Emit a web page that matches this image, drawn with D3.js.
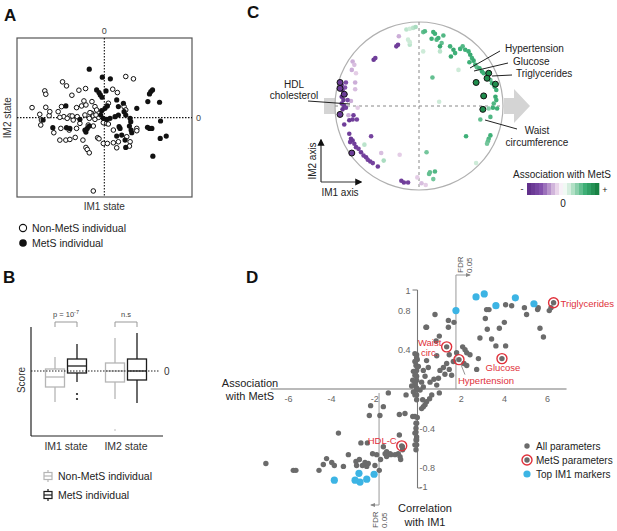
<!DOCTYPE html>
<html>
<head>
<meta charset="utf-8">
<script src="https://cdnjs.cloudflare.com/ajax/libs/d3/7.8.5/d3.min.js"></script>
<style>
body{margin:0;background:#fff;}
text{font-family:"Liberation Sans",Arial,sans-serif;}
</style>
</head>
<body>
<svg id="fig" width="617" height="531"></svg>
<script>
// ---------- panel A : individuals on IM1 / IM2 state ----------
var aMetS = [[-0.45,1.45],[-0.06,1.21],[0.18,1.16],[-0.23,0.83],[-0.16,0.75],[-0.12,0.68],[-0.07,0.61],[0.05,0.80],
  [0.37,0.53],[0.42,0.33],[0.57,0.43],[0.59,0.18],[0.64,0.08],[0.42,0.08],[0.32,0.03],[0.09,0.35],[0.02,0.28],
  [-0.08,0.21],[-0.11,0.08],[-0.03,-0.02],[0.07,-0.05],[0.17,-0.02],[1.44,0.83],[1.39,0.78],[1.35,0.71],[1.30,0.48],
  [1.65,0.46],[0.97,0.28],[0.77,-0.02],[0.79,-0.12],[0.75,-0.25],[0.80,-0.37],[0.82,-0.45],[1.29,-0.29],[1.35,-0.32],
  [1.42,-0.32],[1.68,-0.10],[1.67,-0.62],[1.85,-0.55],[1.45,-1.15],[0.64,-0.89],[0.62,-0.67],[0.44,-0.27],[0.47,-0.32],
  [0.37,-0.55],[0.52,-0.52],[-1.54,-0.30],[-1.15,0.35],[-1.83,-0.07],[-1.13,-0.30],[-1.03,-0.32],[-0.58,-0.37],
  [-0.55,-0.43],[-0.51,-0.32],[-0.45,-0.25],[-0.73,-0.05]]
var aNonMetS = [[-2.16,0.30],[-1.78,0.80],[-1.75,0.70],[-1.25,1.07],[-1.13,0.95],[-0.76,0.82],[-0.56,0.87],[-0.97,0.67],
  [-1.75,0.31],[-1.93,0.10],[-1.65,0.06],[-1.88,-0.07],[-1.90,-0.22],[-1.38,0.18],[-1.28,0.33],[-1.21,0.03],[-1.03,0.05],
  [-0.83,0.30],[-0.68,0.35],[-0.55,0.38],[-0.61,0.50],[-0.37,0.48],[-0.28,0.33],[-0.23,0.23],[-0.38,0.13],[-0.45,-0.02],
  [-0.33,0.05],[-0.28,-0.05],[-0.17,0.01],[-0.48,-0.22],[-0.33,-0.25],[-0.83,-0.32],[-0.93,-0.07],[-0.73,-0.17],
  [-1.05,-0.37],[-1.51,-0.45],[-1.33,-0.67],[-1.15,-0.67],[-1.03,-0.65],[-0.87,-0.59],[-0.64,-0.67],[-0.55,-0.89],
  [-0.51,-0.95],[-0.45,-1.05],[-0.20,-0.60],[-0.16,-0.63],[-0.03,-0.77],[0.09,-0.77],[0.27,-0.75],[0.37,-0.90],
  [0.42,-0.72],[0.77,-0.72],[0.75,-0.85],[0.97,-0.32],[0.97,-0.39],[0.67,-0.57],[0.12,0.43],[0.25,0.85],[0.39,0.75],
  [0.64,1.23],[0.87,1.16],[0.59,0.33],[0.64,0.23],[-0.03,-0.15],[0.07,-0.17],[-0.33,-2.19],[-1.30,-0.32],[-0.96,0.05],
  [-0.43,0.15],[-0.25,0.08],[-0.58,0.08],[-0.81,0.03],[-1.63,0.18],[0.12,-0.19],[0.27,-0.37],[-1.33,0.01],[-1.11,-0.02]]

// ---------- panel B : box plot summaries (q1, median, q3, whisker lo, whisker hi) ----------
var bStates = ["IM1 state", "IM2 state"]
var bGroups = ["Non-MetS individual", "MetS individual"]
var bBoxes = [
  {state:"IM1 state", group:0, lo:-1.55, q1:-0.8, med:-0.3, q3:0.1, hi:0.7, out:[]},
  {state:"IM1 state", group:1, lo:-0.55, q1:-0.1, med:0.25, q3:0.6, hi:1.35, out:[-1.15,-1.4]},
  {state:"IM2 state", group:0, lo:-1.4, q1:-0.55, med:0, q3:0.4, hi:1.65, out:[-2.95]},
  {state:"IM2 state", group:1, lo:-1.6, q1:-0.45, med:0, q3:0.6, hi:1.9, out:[]}
]
var bTests = ["p = 10", "n.s"]

// ---------- panel C : parameter loadings [IM1, IM2, association with MetS] ----------
var cPoints = [
  [-0.24,0.83,-0.3],[-0.79,0.53,-0.3],[-0.77,0.49,-0.25],[-0.80,0.43,-0.3],[-0.75,0.39,-0.2],[-0.76,0.28,-0.3],
  [-0.76,0.20,-0.25],[-0.81,0.06,-0.3],[-0.73,-0.02,-0.2],[-0.84,-0.11,-0.3],[-0.45,-0.56,-0.25],[-0.23,-0.58,-0.2],
  [-0.02,-0.85,-0.2],[0.03,-0.92,-0.25],[0.08,-0.94,-0.2],
  [-0.65,-0.46,0.25],[-0.42,-0.65,0.3],[-0.15,0.91,0.25],[-0.11,0.92,0.2],[-0.07,0.93,0.25],[-0.04,0.94,0.3],
  [-0.13,0.79,0.2],[-0.11,0.73,0.25],[0.05,0.65,0.2],[0.24,0.05,0.2],[0.68,-0.68,0.2],[0.47,0.43,0.2],
  [0.25,0.65,0.25],[-0.11,0.76,0.2],
  [-0.27,0.71,-0.8],[-0.25,0.73,-0.8],[-0.54,0.55,-0.85],[-0.52,0.57,-0.8],
  [-0.92,0.25,-0.9],[-0.91,0.19,-0.85],[-0.92,0.11,-0.9],[-0.90,0.07,-0.85],[-0.92,0.03,-0.9],[-0.89,0.00,-0.85],
  [-0.91,-0.04,-0.9],[-0.87,-0.02,-0.8],[-0.88,0.22,-0.6],[-0.87,0.28,-0.65],[-0.88,0.14,-0.8],[-0.85,0.07,-0.7],
  [-0.79,-0.16,-0.8],[-0.83,-0.17,-0.85],[-0.89,-0.22,-0.8],[-0.74,-0.16,-0.75],[-0.78,-0.11,-0.8],
  [-0.83,-0.33,-0.8],[-0.81,-0.39,-0.85],[-0.82,-0.43,-0.8],[-0.79,-0.41,-0.85],[-0.77,-0.45,-0.8],[-0.75,-0.49,-0.8],
  [-0.72,-0.51,-0.75],[-0.69,-0.55,-0.8],[-0.66,-0.59,-0.75],[-0.63,-0.61,-0.8],[-0.61,-0.64,-0.75],[-0.58,-0.66,-0.8],
  [-0.55,-0.68,-0.75],[-0.49,-0.72,-0.8],[-0.57,-0.36,-0.75],[-0.21,-0.89,-0.8],[-0.18,-0.91,-0.8],[-0.13,-0.91,-0.75],
  [0.05,0.88,0.5],[0.07,0.89,0.55],[0.17,0.88,0.6],[0.19,0.86,0.6],[0.29,0.84,0.55],[0.15,0.80,0.6],[0.21,0.79,0.55],
  [0.16,0.34,0.5],[0.56,-0.36,0.6],[0.13,-0.79,0.5],[0.19,-0.78,0.55],[0.23,0.81,0.6],[0.27,0.75,0.5],[0.25,0.71,0.65],
  [0.37,0.71,0.6],[0.41,0.67,0.65],[0.43,0.63,0.6],[0.38,0.59,0.65],[0.49,0.68,0.6],[0.52,0.71,0.55],[0.55,0.67,0.6],
  [0.59,0.65,0.6],[0.61,0.61,0.65],[0.63,0.57,0.6],[0.65,0.54,0.65],[0.60,0.52,0.6],[0.67,0.49,0.6],[0.69,0.46,0.5],
  [0.72,0.45,0.6],[0.75,0.41,0.65],[0.77,0.39,0.6],[0.85,0.31,0.5],[0.87,0.27,0.6],[0.90,0.23,0.65],[0.92,0.19,0.6],
  [0.91,0.11,0.65],[0.92,0.07,0.6],[0.89,0.03,0.55],[0.88,-0.02,0.6],[0.83,-0.03,0.4],[0.93,-0.03,0.6],[0.85,-0.13,0.55],
  [0.73,-0.16,0.5],[0.85,-0.35,0.6],[0.83,-0.39,0.55],[0.82,-0.42,0.5],[0.81,-0.45,0.45],[0.12,-0.81,0.5],
  [0.17,-0.87,0.45],[0.09,-0.55,0.45]
]
var cHdl = [[-0.94,0.28],[-0.94,0.21],[-0.89,0.14],[-0.94,-0.10],[-0.80,-0.56]]
var cMetSPos = [[0.83,0.39],[0.81,0.33],[0.68,0.28],[0.91,0.26],[0.77,0.12],[0.76,-0.04]]

// ---------- panel D : association with MetS vs correlation with IM1 ----------
var dAll = [[0.81,0.76],[1.43,0.70],[1.69,0.68],[1.43,0.63],[0.42,0.63],[1.01,0.54],[0.86,0.49],[3.20,0.81],[3.31,0.81],
  [4.08,0.86],[4.36,0.85],[4.95,0.83],[5.05,0.76],[5.56,0.81],[5.59,0.83],[6.10,0.80],[6.18,0.83],[3.14,0.72],[3.23,0.61],
  [3.79,0.62],[4.02,0.68],[5.67,0.62],[5.83,0.53],[2.89,0.52],[3.43,0.51],[3.63,0.44],[4.08,0.44],[1.81,0.37],[2.09,0.43],
  [2.20,0.40],[2.28,0.37],[2.43,0.35],[2.82,0.31],[2.74,0.20],[2.15,0.26],[2.28,0.24],[0.89,0.34],[1.47,0.35],[1.66,0.28],
  [1.35,0.26],[1.20,0.22],[1.47,0.20],[1.04,0.19],[1.58,0.14],[1.27,0.15],[0.97,0.11],[0.76,0.10],[0.58,0.07],[0.89,0.04],
  [1.01,-0.04],[0.66,-0.06],[0.56,-0.10],[0.42,-0.13],[0.35,-0.16],[0.27,-0.18],[0.19,-0.20],[0.42,0.29],[0.50,0.22],
  [0.27,0.19],[0.35,0.13],[0.19,0.07],[0.27,0.02],[0.12,-0.01],[-0.04,0.35],[-0.01,0.30],[-0.07,0.24],[-0.04,0.19],
  [-0.12,0.14],[-0.04,0.09],[-0.12,0.04],[-0.04,-0.01],[-0.12,-0.06],[-0.04,-0.11],[-0.12,-0.28],[-0.01,-0.29],
  [-0.07,-0.35],[-0.07,-0.44],[-0.04,-0.49],[-0.07,-0.52],[-0.04,-0.57],[-0.07,-0.62],[0.39,0.63],[-0.12,0.36],
  [-0.04,0.32],[-0.12,0.28],[0.04,0.23],[-0.19,0.18],[-0.04,0.13],[-0.22,0.09],[-0.12,0.06],[-0.27,0.03],[-0.04,0.01],
  [-0.19,-0.03],[-0.04,-0.06],[0.24,-0.11],[-1.35,-0.04],[-0.53,-0.06],[-2.17,-0.17],[-1.58,-0.18],[-2.23,-0.27],
  [-0.84,-0.26],[-0.58,-0.25],[-1.74,-0.27],[-0.22,-0.28],[-0.04,-0.35],[-0.07,-0.40],[-0.12,-0.45],[-0.04,-0.52],
  [-0.12,-0.57],[-0.84,-0.47],[-0.70,-0.59],[-0.69,-0.62],[-0.89,-0.66],[-0.81,-0.69],[-0.78,-0.72],[-1.04,-0.67],
  [-1.27,-0.66],[-1.50,-0.66],[-1.43,-0.69],[-1.89,-0.67],[-1.71,-0.72],[-2.08,-0.66],[-2.32,-0.55],[-2.62,-0.55],
  [-2.85,-0.74],[-2.82,-0.78],[-2.43,-0.75],[-2.35,-0.79],[-2.28,-0.76],[-1.97,-0.78],[-1.77,-0.83],[-3.20,-0.67],
  [-3.43,-0.79],[-3.66,-0.45],[-4.21,-0.71],[-3.97,-0.75],[-3.85,-0.78],[-4.36,-0.77],[-4.56,-0.83],[-5.75,-0.83],
  [-5.63,-0.83],[-7.02,-0.76],[-2.55,-0.78],[-2.69,-0.72],[-1.43,-0.64],[-1.23,-0.67],[-1.58,-0.59]]
var dTop = [[2.71,0.94],[3.09,0.97],[3.63,0.85],[4.53,0.93],[5.39,0.87],[1.78,0.80],
  [-3.85,-0.93],[-2.89,-0.93],[-2.66,-0.95],[-2.35,-0.92],[-2.71,-0.86],[-2.01,-0.87]]
var dMetS = [["Triglycerides",6.3,0.88],["Waist circ.",1.35,0.43],["Hypertension",1.92,0.30],["Glucose",3.91,0.31],["HDL-C",-0.73,-0.58]]
var dFdr = 1.78
var dXTicks = [-6,-4,-2,2,4,6]
var dYTicksPos = [1,0.8,0.4]
var dYTicksNeg = [-0.4,-0.8,-1]

var svg = d3.select("#fig")
var red = "#e0313b"

function panelLabel(t, x, y){
  svg.append("text").attr("x",x).attr("y",y).attr("font-size",17).attr("font-weight","bold").attr("fill","#111").text(t)
}
panelLabel("A",4,21); panelLabel("B",3,283); panelLabel("C",247,18); panelLabel("D",246,283)

// ================= A =================
var gA = svg.append("g")
var xA = d3.scaleLinear().domain([-2.61,2.62]).range([17,192])
var yA = d3.scaleLinear().domain([-2.37,2.38]).range([197,38])
gA.append("rect").attr("x",xA.range()[0]).attr("y",yA.range()[1])
  .attr("width",xA.range()[1]-xA.range()[0]).attr("height",yA.range()[0]-yA.range()[1])
  .attr("fill","none").attr("stroke","#555").attr("stroke-width",1.2)
gA.append("line").attr("x1",xA(0)).attr("x2",xA(0)).attr("y1",yA.range()[1]).attr("y2",yA.range()[0])
  .attr("stroke","#111").attr("stroke-width",1.1).attr("stroke-dasharray","1.5,1.5")
gA.append("line").attr("x1",xA.range()[0]).attr("x2",xA.range()[1]).attr("y1",yA(0)).attr("y2",yA(0))
  .attr("stroke","#111").attr("stroke-width",1.1).attr("stroke-dasharray","1.5,1.5")
gA.selectAll(".open").data(aNonMetS).enter().append("circle")
  .attr("cx",d=>xA(d[0])).attr("cy",d=>yA(d[1])).attr("r",2.3)
  .attr("fill","#fff").attr("stroke","#111").attr("stroke-width",1)
gA.selectAll(".filled").data(aMetS).enter().append("circle")
  .attr("cx",d=>xA(d[0])).attr("cy",d=>yA(d[1])).attr("r",2.6).attr("fill","#111")
gA.append("text").attr("x",xA(0)).attr("y",34).attr("text-anchor","middle").attr("font-size",9).attr("fill","#444").text("0")
gA.append("text").attr("x",196).attr("y",yA(0)+3).attr("font-size",9).attr("fill","#444").text("0")
gA.append("text").attr("x",xA(0)).attr("y",210).attr("text-anchor","middle").attr("font-size",10).attr("fill","#333").text("IM1 state")
gA.append("text").attr("transform",`translate(11,${yA(0)}) rotate(-90)`).attr("text-anchor","middle").attr("font-size",10).attr("fill","#333").text("IM2 state")
gA.append("circle").attr("cx",23).attr("cy",228).attr("r",3.6).attr("fill","#fff").attr("stroke","#111").attr("stroke-width",1.1)
gA.append("circle").attr("cx",23).attr("cy",243).attr("r",3.8).attr("fill","#111")
gA.append("text").attr("x",32).attr("y",231.5).attr("font-size",10.5).attr("fill","#222").text("Non-MetS individual")
gA.append("text").attr("x",32).attr("y",246.5).attr("font-size",10.5).attr("fill","#222").text("MetS individual")

// ================= B =================
var gB = svg.append("g")
var xB = d3.scaleBand().domain(bStates).range([36,156])
var yB = d3.scaleLinear().domain([-3.25,2.2]).range([436,327])
var boxColor = ["#b5b5b5","#1c1c1c"]
var boxW = 19
gB.append("line").attr("x1",31).attr("x2",31).attr("y1",yB.range()[1]).attr("y2",yB.range()[0]).attr("stroke","#222").attr("stroke-width",1.2)
gB.append("line").attr("x1",31).attr("x2",163).attr("y1",yB.range()[0]).attr("y2",yB.range()[0]).attr("stroke","#222").attr("stroke-width",1.2)
var boxG = gB.selectAll(".box").data(bBoxes).enter().append("g")
  .attr("transform",d=>`translate(${xB(d.state)+xB.bandwidth()/2+(d.group?11:-11)},0)`)
boxG.append("line").attr("x1",0).attr("x2",0).attr("y1",d=>yB(d.hi)).attr("y2",d=>yB(d.q3))
  .attr("stroke",d=>boxColor[d.group]).attr("stroke-width",1.3)
boxG.append("line").attr("x1",0).attr("x2",0).attr("y1",d=>yB(d.q1)).attr("y2",d=>yB(d.lo))
  .attr("stroke",d=>boxColor[d.group]).attr("stroke-width",1.3)
boxG.append("rect").attr("x",-boxW/2).attr("width",boxW).attr("y",d=>yB(d.q3)).attr("height",d=>yB(d.q1)-yB(d.q3))
  .attr("fill","#fff").attr("stroke",d=>boxColor[d.group]).attr("stroke-width",1.3)
boxG.append("line").attr("x1",-boxW/2).attr("x2",boxW/2).attr("y1",d=>yB(d.med)).attr("y2",d=>yB(d.med))
  .attr("stroke",d=>boxColor[d.group]).attr("stroke-width",1.3)
boxG.each(function(d){
  d3.select(this).selectAll(".o").data(d.out).enter().append("circle")
    .attr("cx",0).attr("cy",v=>yB(v)).attr("r",d.group?1.1:0.8).attr("fill",boxColor[d.group])
})
gB.append("line").attr("x1",31).attr("x2",160).attr("y1",yB(0)).attr("y2",yB(0))
  .attr("stroke","#222").attr("stroke-width",1.1).attr("stroke-dasharray","1.5,1.5")
gB.append("text").attr("x",164).attr("y",yB(0)+3.5).attr("font-size",10).attr("fill","#333").text("0")
gB.append("text").attr("transform",`translate(25,${yB(0)+9}) rotate(-90)`).attr("text-anchor","middle").attr("font-size",10).attr("fill","#333").text("Score")
bStates.forEach(function(s,i){
  var cx = xB(s)+xB.bandwidth()/2
  gB.append("text").attr("x",cx).attr("y",450).attr("text-anchor","middle").attr("font-size",10.5).attr("fill","#333").text(s)
  gB.append("path").attr("d",`M${cx-11},327V322H${cx+11}V327`).attr("fill","none").attr("stroke","#999").attr("stroke-width",1)
  var t = gB.append("text").attr("x",cx).attr("y",317).attr("text-anchor","middle").attr("font-size",7.5).attr("fill","#444").text(bTests[i])
  if(i==0) t.append("tspan").attr("dy",-3).attr("font-size",5.5).text("-7")
})
bGroups.forEach(function(g,i){
  var cy = 476+i*19
  var lg = gB.append("g").attr("transform",`translate(48,${cy})`)
  lg.append("line").attr("x1",0).attr("x2",0).attr("y1",-6).attr("y2",6).attr("stroke",boxColor[i]).attr("stroke-width",1.2)
  lg.append("rect").attr("x",-4).attr("y",-3.5).attr("width",8).attr("height",7).attr("fill","#fff").attr("stroke",boxColor[i]).attr("stroke-width",1.2)
  lg.append("line").attr("x1",-4).attr("x2",4).attr("y1",0).attr("y2",0).attr("stroke",boxColor[i]).attr("stroke-width",1.2)
  gB.append("text").attr("x",58).attr("y",cy+4).attr("font-size",10.5).attr("fill","#222").text(g)
})

// ================= C =================
var gC = svg.append("g")
var xC = d3.scaleLinear().domain([-1,1]).range([335,503])
var yC = d3.scaleLinear().domain([-1,1]).range([190,22])
var colC = d3.scaleLinear().domain([-1,-0.6,-0.2,0,0.2,0.6,1])
  .range(["#5b2a86","#8452ad","#e4cde6","#ffffff","#cdebd8","#3fb078","#127a3c"])
// grey arrows behind the circle
gC.append("rect").attr("x",xC(-1)-11).attr("y",yC(0)-8).attr("width",13).attr("height",16).attr("fill","#d4d4d4")
gC.append("path").attr("d",`M${xC(1)+1},${yC(0)-8}H${xC(1)+11}V${yC(0)-17}L${xC(1)+27},${yC(0)}L${xC(1)+11},${yC(0)+17}V${yC(0)+8}H${xC(1)+1}Z`).attr("fill","#d4d4d4")
gC.append("circle").attr("cx",xC(0)).attr("cy",yC(0)).attr("r",xC(1)-xC(0)).attr("fill","#fff").attr("stroke","#b0b0b0").attr("stroke-width",1.2)
gC.append("line").attr("x1",xC(0)).attr("x2",xC(0)).attr("y1",yC(1)).attr("y2",yC(-1)).attr("stroke","#888").attr("stroke-dasharray","3,3")
gC.append("line").attr("x1",xC(-1)).attr("x2",xC(1)).attr("y1",yC(0)).attr("y2",yC(0)).attr("stroke","#888").attr("stroke-dasharray","3,3")
gC.selectAll(".pt").data(cPoints).enter().append("circle")
  .attr("cx",d=>xC(d[0])).attr("cy",d=>yC(d[1])).attr("r",2.3).attr("fill",d=>colC(d[2]))
gC.selectAll(".hdl").data(cHdl).enter().append("circle")
  .attr("cx",d=>xC(d[0])).attr("cy",d=>yC(d[1])).attr("r",3).attr("fill","#6a3b96").attr("stroke","#111").attr("stroke-width",1)
gC.selectAll(".mets").data(cMetSPos).enter().append("circle")
  .attr("cx",d=>xC(d[0])).attr("cy",d=>yC(d[1])).attr("r",3).attr("fill","#1f8d4d").attr("stroke","#111").attr("stroke-width",1)
// annotations
function leader(x1,y1,x2,y2){ gC.append("line").attr("x1",x1).attr("y1",y1).attr("x2",x2).attr("y2",y2).attr("stroke","#222").attr("stroke-width",1) }
leader(308,101,350,104); leader(500,51,470,68); leader(508,63,474,71); leader(512,75,492,76); leader(517,129,485,120)
var cLab = [["HDL",294,88,"middle"],["cholesterol",294,99,"middle"],["Hypertension",505,52,"start"],["Glucose",513,65,"start"],
  ["Triglycerides",516,77,"start"],["Waist",537,134,"middle"],["circumference",537,146,"middle"]]
cLab.forEach(function(l){
  gC.append("text").attr("x",l[1]).attr("y",l[2]).attr("text-anchor",l[3]).attr("font-size",10).attr("fill","#222").text(l[0])
})
// IM axes arrows
gC.append("defs").append("marker").attr("id","ah").attr("viewBox","0 0 10 10").attr("refX",8).attr("refY",5)
  .attr("markerWidth",6).attr("markerHeight",6).attr("orient","auto")
  .append("path").attr("d","M0,0L10,5L0,10Z").attr("fill","#111")
gC.append("line").attr("x1",321).attr("y1",182).attr("x2",321).attr("y2",140).attr("stroke","#333").attr("stroke-width",1.2).attr("marker-end","url(#ah)")
gC.append("line").attr("x1",321).attr("y1",182).attr("x2",361).attr("y2",182).attr("stroke","#333").attr("stroke-width",1.2).attr("marker-end","url(#ah)")
gC.append("text").attr("transform","translate(316,161) rotate(-90)").attr("text-anchor","middle").attr("font-size",10).attr("fill","#222").text("IM2 axis")
gC.append("text").attr("x",340).attr("y",196).attr("text-anchor","middle").attr("font-size",10).attr("fill","#222").text("IM1 axis")
// colour bar
var cbX = d3.scaleLinear().domain([-1,1]).range([527,599])
var cbSteps = d3.range(-1,1,2/18)
gC.selectAll(".cb").data(cbSteps).enter().append("rect")
  .attr("x",d=>cbX(d)).attr("y",183).attr("width",cbX(-1+2/18)-cbX(-1)+0.3).attr("height",12)
  .attr("fill",d=>colC(d+1/18))
gC.append("text").attr("x",562).attr("y",178).attr("text-anchor","middle").attr("font-size",10).attr("fill","#222").text("Association with MetS")
gC.append("text").attr("x",522).attr("y",192).attr("text-anchor","middle").attr("font-size",9).attr("fill","#222").text("-")
gC.append("text").attr("x",605).attr("y",193).attr("text-anchor","middle").attr("font-size",9).attr("fill","#222").text("+")
gC.append("text").attr("x",cbX(0)).attr("y",207).attr("text-anchor","middle").attr("font-size",10).attr("fill","#222").text("0")

// ================= D =================
var gD = svg.append("g")
var xD = d3.scaleLinear().domain([-7,7]).range([266.3,568.7])
var yD = d3.scaleLinear().domain([-1,1]).range([487,291])
var axCol = "#777"
gD.append("line").attr("x1",xD(-6.8)).attr("x2",xD(6.9)).attr("y1",yD(0)).attr("y2",yD(0)).attr("stroke",axCol).attr("stroke-width",1.1)
gD.append("line").attr("x1",xD(0)).attr("x2",xD(0)).attr("y1",yD(1)-1).attr("y2",yD(-1)+1).attr("stroke",axCol).attr("stroke-width",1.1)
gD.append("line").attr("x1",xD(0)-5).attr("x2",xD(0)).attr("y1",yD(1)-1).attr("y2",yD(1)-1).attr("stroke",axCol)
gD.append("line").attr("x1",xD(0)).attr("x2",xD(0)+4).attr("y1",yD(-1)+1).attr("y2",yD(-1)+1).attr("stroke",axCol)
var xAxD = gD.append("g").attr("transform",`translate(0,${yD(0)})`)
  .call(d3.axisBottom(xD).tickValues(dXTicks).tickSize(0).tickPadding(7).tickFormat(d=>String(d)))
var yAxP = gD.append("g").attr("transform",`translate(${xD(0)},0)`)
  .call(d3.axisLeft(yD).tickValues(dYTicksPos).tickSize(0).tickPadding(7).tickFormat(d=>String(d)))
var yAxN = gD.append("g").attr("transform",`translate(${xD(0)},0)`)
  .call(d3.axisRight(yD).tickValues(dYTicksNeg).tickSize(0).tickPadding(2).tickFormat(d=>String(d)))
;[xAxD,yAxP,yAxN].forEach(function(a){
  a.select(".domain").remove()
  a.selectAll("text").attr("font-size",9).attr("fill","#666").attr("font-family","Liberation Sans, Arial, sans-serif")
})
// FDR thresholds
gD.append("defs").append("marker").attr("id","ahg").attr("viewBox","0 0 10 10").attr("refX",8).attr("refY",5)
  .attr("markerWidth",5).attr("markerHeight",5).attr("orient","auto")
  .append("path").attr("d","M0,1L10,5L0,9Z").attr("fill","#888")
gD.append("path").attr("d",`M${xD(dFdr)},${yD(0)}V275H${xD(dFdr)+14}`).attr("fill","none").attr("stroke","#999").attr("marker-end","url(#ahg)")
gD.append("path").attr("d",`M${xD(-dFdr)},${yD(0)+4}V505H${xD(-dFdr)-8}`).attr("fill","none").attr("stroke","#999").attr("marker-end","url(#ahg)")
gD.append("text").attr("transform",`translate(${xD(dFdr)+7},273) rotate(-90)`).attr("font-size",8).attr("fill","#555").text("FDR")
gD.append("text").attr("transform",`translate(${xD(dFdr)+16},273) rotate(-90)`).attr("font-size",8).attr("fill","#555").text("0.05")
gD.append("text").attr("transform",`translate(${xD(-dFdr)-1},528) rotate(-90)`).attr("font-size",8).attr("fill","#555").text("FDR")
gD.append("text").attr("transform",`translate(${xD(-dFdr)+8},528) rotate(-90)`).attr("font-size",8).attr("fill","#555").text("0.05")
// points
var grey = "#6b6b6b", cyan = "#3cb4e4"
gD.selectAll(".all").data(dAll).enter().append("circle")
  .attr("cx",d=>xD(d[0])).attr("cy",d=>yD(d[1])).attr("r",2.7).attr("fill",grey)
gD.selectAll(".mpt").data(dMetS).enter().append("circle")
  .attr("cx",d=>xD(d[1])).attr("cy",d=>yD(d[2])).attr("r",2.7).attr("fill",grey)
gD.selectAll(".ring").data(dMetS).enter().append("circle")
  .attr("cx",d=>xD(d[1])).attr("cy",d=>yD(d[2])).attr("r",5).attr("fill","none").attr("stroke",red).attr("stroke-width",1.4)
gD.selectAll(".top").data(dTop).enter().append("circle")
  .attr("cx",d=>xD(d[0])).attr("cy",d=>yD(d[1])).attr("r",3.6).attr("fill",cyan)
// red labels
function redText(t,x,y,anchor){ gD.append("text").attr("x",x).attr("y",y).attr("text-anchor",anchor).attr("font-size",9.5).attr("fill",red).text(t) }
var tri = dMetS[0], wai = dMetS[1], hyp = dMetS[2], glu = dMetS[3], hdl = dMetS[4]
redText("Triglycerides",xD(tri[1])+7,yD(tri[2])+4,"start")
redText("Waist",xD(wai[1])-17,yD(wai[2])-1,"middle")
redText("circ.",xD(wai[1])-17,yD(wai[2])+9,"middle")
redText("Hypertension",xD(hyp[1])-1,yD(hyp[2])+24,"start")
gD.append("line").attr("x1",xD(hyp[1])+2).attr("y1",yD(hyp[2])+5).attr("x2",xD(hyp[1])+6).attr("y2",yD(hyp[2])+15).attr("stroke","#777").attr("stroke-width",0.8)
redText("Glucose",xD(glu[1])+1,yD(glu[2])+12,"middle")
redText("HDL-C",xD(hdl[1])-5,yD(hdl[2])-2,"end")
// axis titles
gD.append("text").attr("x",250).attr("y",387).attr("text-anchor","middle").attr("font-size",11).attr("fill","#222").text("Association")
gD.append("text").attr("x",250).attr("y",400).attr("text-anchor","middle").attr("font-size",11).attr("fill","#222").text("with MetS")
gD.append("text").attr("x",425).attr("y",512).attr("text-anchor","middle").attr("font-size",11).attr("fill","#222").text("Correlation")
gD.append("text").attr("x",425).attr("y",526).attr("text-anchor","middle").attr("font-size",11).attr("fill","#222").text("with IM1")
// legend
var legD = [["All parameters","all"],["MetS parameters","mets"],["Top IM1 markers","top"]]
legD.forEach(function(l,i){
  var cy = 446+i*14
  if(l[1]=="top") gD.append("circle").attr("cx",527).attr("cy",cy).attr("r",3.6).attr("fill",cyan)
  else gD.append("circle").attr("cx",527).attr("cy",cy).attr("r",2.7).attr("fill",grey)
  if(l[1]=="mets") gD.append("circle").attr("cx",527).attr("cy",cy).attr("r",5).attr("fill","none").attr("stroke",red).attr("stroke-width",1.4)
  gD.append("text").attr("x",536).attr("y",cy+4).attr("font-size",10).attr("fill","#222").text(l[0])
})
</script>
</body>
</html>
